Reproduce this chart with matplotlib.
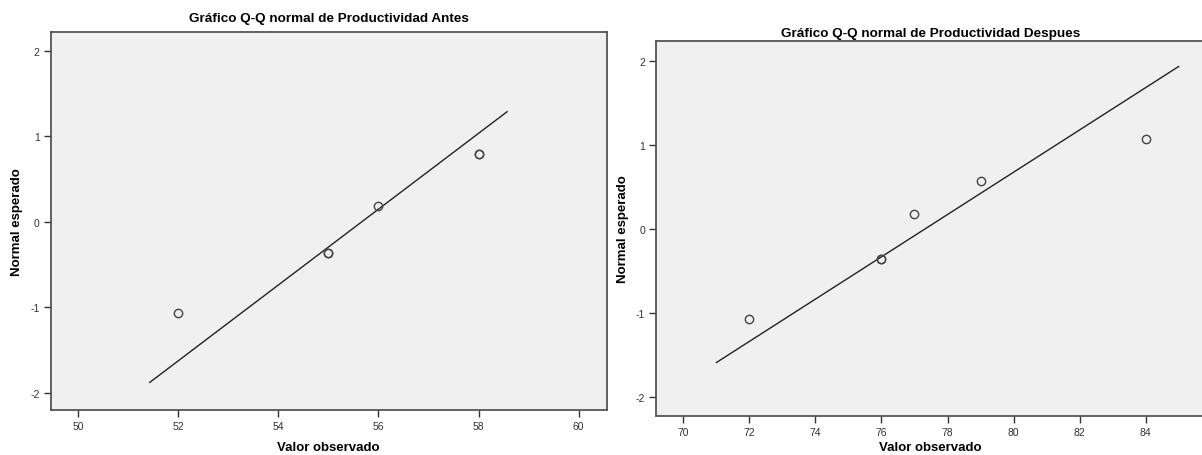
import matplotlib
matplotlib.use("Agg")
import matplotlib.pyplot as plt

plt.rcParams['font.family'] = ['Liberation Sans', 'DejaVu Sans']
plt.rcParams['axes.unicode_minus'] = False

# Productividad Antes
antes_obs = [52, 55, 55, 56, 58, 58]
antes_esp = [-1.07, -0.37, -0.37, 0.18, 0.79, 0.79]
antes_line_x = [51.43, 58.57]
antes_line_y = [-1.88, 1.29]
antes_xticks = [50, 52, 54, 56, 58, 60]

# Productividad Despues
despues_obs = [72, 76, 76, 77, 79, 84]
despues_esp = [-1.07, -0.36, -0.36, 0.18, 0.57, 1.07]
despues_line_x = [71, 85]
despues_line_y = [-1.59, 1.93]
despues_xticks = [70, 72, 74, 76, 78, 80, 82, 84]

yticks = [-2, -1, 0, 1, 2]

W, H = 1202, 456
fig = plt.figure(figsize=(W / 100, H / 100), dpi=100)


def panel(rect, obs, esp, lx, ly, xticks, xlim, ylim, title, tpad, xpad):
    ax = fig.add_axes(rect)
    ax.set_facecolor('#f0f0f0')
    ax.plot(lx, ly, color='#222222', lw=1.0, zorder=2)
    ax.plot(obs, esp, 'o', mfc='none', mec='#444444', mew=1.0, ms=6, zorder=3)
    ax.set_xlim(xlim)
    ax.set_ylim(ylim)
    ax.set_xticks(xticks)
    ax.set_yticks(yticks)
    ax.tick_params(direction='out', length=5, width=1, color='#333333',
                   labelsize=7.5, labelcolor='#333333', pad=3)
    for s in ax.spines.values():
        s.set_color('#555555')
        s.set_linewidth(1.3)
    ax.set_title(title, fontsize=9.7, fontweight='bold', pad=tpad)
    ax.set_xlabel('Valor observado', fontsize=9.5, fontweight='bold', labelpad=xpad)
    ax.set_ylabel('Normal esperado', fontsize=9.5, fontweight='bold', labelpad=5)
    return ax


panel([50.7 / W, (H - 410.7) / H, 556 / W, 377.4 / H],
      antes_obs, antes_esp, antes_line_x, antes_line_y, antes_xticks,
      (49.45, 60.56), (-2.2, 2.22),
      'Gráfico Q-Q normal de Productividad Antes', 8, 7.5)

panel([656 / W, (H - 416.5) / H, 549 / W, 374.2 / H],
      despues_obs, despues_esp, despues_line_x, despues_line_y, despues_xticks,
      (69.17, 85.8), (-2.22, 2.23),
      'Gráfico Q-Q normal de Productividad Despues', 4, 3.5)

fig.savefig('out.png', dpi=100, facecolor='white')
